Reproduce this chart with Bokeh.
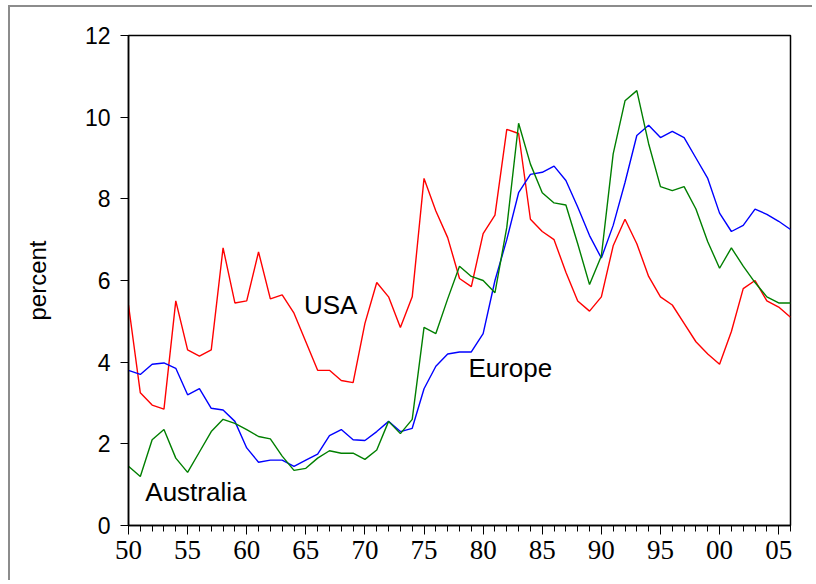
from bokeh.plotting import figure
from bokeh.models import FixedTicker, Range1d
from bokeh.core.properties import value
from bokeh.embed import file_html
from bokeh.resources import INLINE

years = list(range(1950, 2007))

usa = [5.4, 3.25, 2.95, 2.85, 5.5, 4.3, 4.15, 4.3, 6.8, 5.45,
       5.5, 6.7, 5.55, 5.65, 5.2, 4.5, 3.8, 3.8, 3.55, 3.5,
       4.95, 5.95, 5.6, 4.85, 5.6, 8.5, 7.7, 7.05, 6.05, 5.85,
       7.15, 7.6, 9.7, 9.6, 7.5, 7.2, 7.0, 6.2, 5.5, 5.25,
       5.6, 6.85, 7.5, 6.9, 6.1, 5.6, 5.4, 4.95, 4.5, 4.2,
       3.95, 4.75, 5.8, 6.0, 5.5, 5.35, 5.1]

europe = [3.8, 3.7, 3.95, 3.98, 3.85, 3.2, 3.35, 2.87, 2.83, 2.55,
          1.9, 1.55, 1.6, 1.6, 1.45, 1.6, 1.75, 2.2, 2.35, 2.1,
          2.08, 2.3, 2.55, 2.3, 2.38, 3.35, 3.9, 4.2, 4.25, 4.25,
          4.7, 6.0, 7.0, 8.15, 8.6, 8.65, 8.8, 8.45, 7.8, 7.1,
          6.55, 7.35, 8.4, 9.55, 9.8, 9.5, 9.65, 9.5, 9.0, 8.5,
          7.65, 7.2, 7.35, 7.75, 7.62, 7.45, 7.25]

australia = [1.45, 1.2, 2.1, 2.35, 1.65, 1.3, 1.8, 2.3, 2.6, 2.5,
             2.35, 2.18, 2.12, 1.7, 1.35, 1.4, 1.65, 1.83, 1.77, 1.77,
             1.62, 1.85, 2.55, 2.25, 2.6, 4.85, 4.7, 5.55, 6.35, 6.1,
             6.0, 5.7, 7.3, 9.85, 8.85, 8.15, 7.9, 7.85, 6.9, 5.9,
             6.6, 9.1, 10.4, 10.65, 9.35, 8.3, 8.2, 8.3, 7.75, 6.95,
             6.3, 6.8, 6.35, 5.95, 5.6, 5.45, 5.45]

x_ticks = list(range(1950, 2006, 5))
x_tick_labels = ["50", "55", "60", "65", "70", "75", "80", "85", "90", "95", "00", "05"]
y_ticks = [0, 2, 4, 6, 8, 10, 12]

p = figure(width=804, height=575, output_backend="svg", toolbar_location=None,
           x_range=Range1d(1950, 2006), y_range=Range1d(0, 12),
           min_border_left=118, min_border_right=24, min_border_top=28, min_border_bottom=57)
p.styles = {"margin-left": "8px", "margin-top": "5px",
            "border-top": "2px solid #8c8c8c", "border-left": "2px solid #8c8c8c"}

p.grid.visible = False
p.outline_line_color = "black"
p.outline_line_width = 1.5
p.background_fill_color = "white"
p.border_fill_color = "white"

p.line(years, usa, line_color="#ff0000", line_width=1.4)
p.line(years, europe, line_color="#0000ff", line_width=1.4)
p.line(years, australia, line_color="#007f00", line_width=1.4)

font = value("Liberation Sans")
p.text(x=[1967.1], y=[5.39], text=["USA"], text_font=font, text_font_size="26px",
       text_align="center", text_baseline="middle", text_color="black")
p.text(x=[1982.3], y=[3.85], text=["Europe"], text_font=font, text_font_size="26px",
       text_align="center", text_baseline="middle", text_color="black")
p.text(x=[1955.7], y=[0.81], text=["Australia"], text_font=font, text_font_size="26px",
       text_align="center", text_baseline="middle", text_color="black")

xa = p.xaxis[0]
xa.ticker = FixedTicker(ticks=x_ticks, minor_ticks=years)
xa.major_label_overrides = {t: l for t, l in zip(x_ticks, x_tick_labels)}
xa.major_tick_out = 9
xa.major_tick_in = 0
xa.minor_tick_out = 6
xa.minor_tick_in = 0
xa.major_label_standoff = 6
xa.major_label_text_font = "Liberation Sans Narrow"
xa.major_label_text_font_size = "27px"
xa.major_label_text_color = "black"
xa.axis_line_color = "black"
xa.axis_line_width = 1.5
xa.major_tick_line_color = "black"
xa.minor_tick_line_color = "black"

ya = p.yaxis[0]
ya.ticker = FixedTicker(ticks=y_ticks, minor_ticks=[])
ya.major_tick_out = 8
ya.major_tick_in = 0
ya.minor_tick_out = 0
ya.major_label_standoff = 10
ya.major_label_text_font = "Liberation Sans"
ya.major_label_text_font_size = "23px"
ya.major_label_text_color = "black"
ya.axis_line_color = "black"
ya.axis_line_width = 1.5
ya.axis_label = "percent"
ya.axis_label_text_font = "Liberation Sans"
ya.axis_label_text_font_size = "24px"
ya.axis_label_text_font_style = "normal"
ya.axis_label_text_color = "black"
ya.axis_label_standoff = 31

open("out.html", "w").write(file_html(p, INLINE))
